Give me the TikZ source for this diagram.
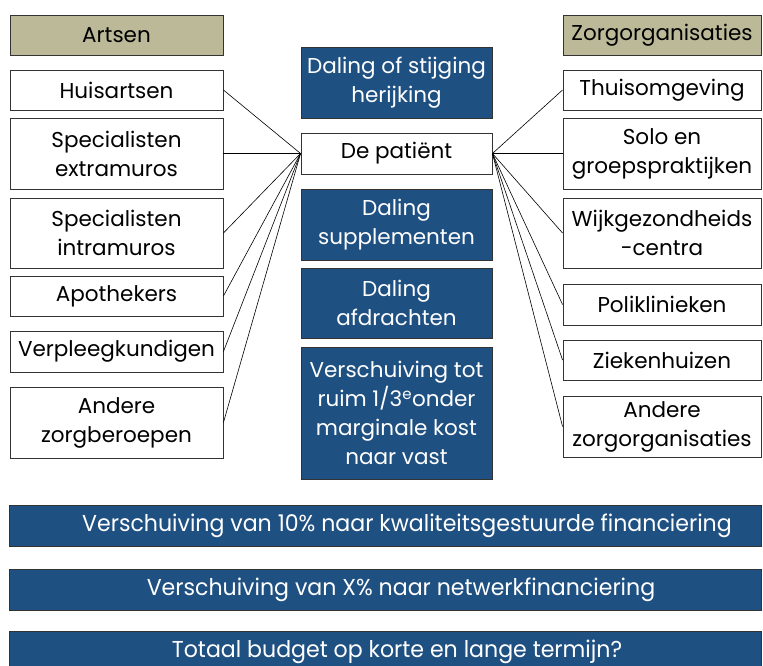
\documentclass[tikz,border=0pt]{standalone}
\usepackage{fontspec}
\setmainfont{Poppins}
\usepackage{graphicx}
\definecolor{navy}{RGB}{31,80,130}
\definecolor{olive}{RGB}{187,185,152}
\begin{document}
\begin{tikzpicture}[x=1pt,y=-1pt,
  box/.style={draw=black!80,line width=0.9pt,fill=white,inner sep=0pt,align=center,
     font=\fontsize{21.5}{29}\selectfont,text=black},
  head/.style={box,fill=olive},
  bluebox/.style={box,fill=navy,text=white},
  bar/.style={bluebox,minimum width=752pt,minimum height=41pt,font=\fontsize{23}{29}\selectfont},
  link/.style={draw=black,line width=0.6pt}]
\useasboundingbox (0,0) rectangle (763,666);
\begin{scope}
\clip (0,0) rectangle (763,666);
% left column
\node[head,minimum width=213pt,minimum height=40pt] (artsen) at (116.5,35) {Artsen};
\node[box,minimum width=213pt,minimum height=40pt] (huis) at (116.5,90) {Huisartsen};
\node[box,minimum width=213pt,minimum height=71pt] (extra) at (116.5,153.5) {Specialisten\\extramuros};
\node[box,minimum width=213pt,minimum height=70pt] (intra) at (116.5,233) {Specialisten\\intramuros};
\node[box,minimum width=213pt,minimum height=40pt] (apo) at (116.5,296) {Apothekers};
\node[box,minimum width=213pt,minimum height=41pt] (verpl) at (116.5,351.5) {Verpleegkundigen};
\node[box,minimum width=213pt,minimum height=71pt] (andb) at (116.5,422.5) {Andere\\zorgberoepen};
% middle column
\node[bluebox,minimum width=191pt,minimum height=71pt] (herijk) at (396.5,82.5) {Daling of stijging\\herijking};
\node[box,minimum width=191pt,minimum height=41pt] (pat) at (396.5,153.5) {De patiënt};
\node[bluebox,minimum width=191pt,minimum height=71pt] (suppl) at (396.5,224.5) {Daling\\supplementen};
\node[bluebox,minimum width=191pt,minimum height=70pt] (afdr) at (396.5,303) {Daling\\afdrachten};
\node[bluebox,minimum width=191pt,minimum height=132pt] (versch) at (396.5,413) {Verschuiving tot\\ruim 1/3\textsuperscript{e}onder\\marginale kost\\naar vast};
% right column
\node[head,minimum width=198pt,minimum height=40pt] (zorg) at (662,35) {Zorgorganisaties};
\node[box,minimum width=198pt,minimum height=40pt] (thuis) at (662,90) {Thuisomgeving};
\node[box,minimum width=198pt,minimum height=71pt] (solo) at (662,153.5) {Solo en\\groepspraktijken};
\node[box,minimum width=198pt,minimum height=70pt] (wijk) at (662,233) {Wijkgezondheids\\-centra};
\node[box,minimum width=198pt,minimum height=41pt] (poli) at (662,304.5) {Poliklinieken};
\node[box,minimum width=198pt,minimum height=40pt] (ziek) at (662,360) {Ziekenhuizen};
\node[box,minimum width=198pt,minimum height=61pt] (ando) at (662,426.5) {Andere\\zorgorganisaties};
% links
\foreach \n in {huis,extra,intra,apo,verpl,andb} \draw[link] (pat.west) -- (\n.east);
\foreach \n in {thuis,solo,wijk,poli,ziek,ando} \draw[link] (pat.east) -- (\n.west);
% bottom bars
\node[bar] (b1) at (385,525.5) {\hspace*{44pt}\scalebox{0.96}[1]{Verschuiving van 10\% naar kwaliteitsgestuurde financiering}};
\node[bar] (b2) at (385,589.5) {\hspace*{32pt}\scalebox{0.96}[1]{Verschuiving van X\% naar netwerkfinanciering}};
\node[bar] (b3) at (385,651.5) {\hspace*{24pt}\scalebox{0.96}[1]{Totaal budget op korte en lange termijn?}};
\end{scope}
\end{tikzpicture}
\end{document}
